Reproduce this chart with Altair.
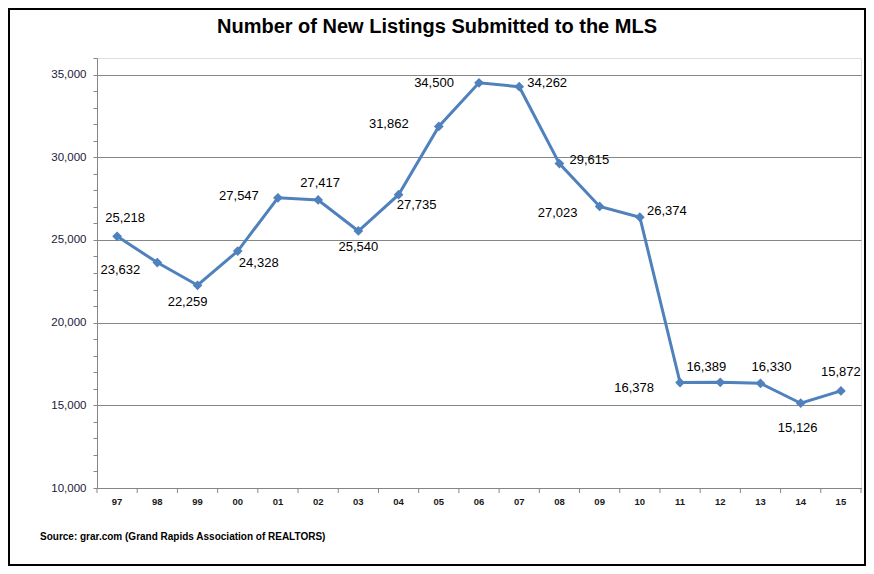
import altair as alt
import pandas as pd

# ---- data ----
years = ["97", "98", "99", "00", "01", "02", "03", "04", "05", "06",
         "07", "08", "09", "10", "11", "12", "13", "14", "15"]
listings = [25218, 23632, 22259, 24328, 27547, 27417, 25540, 27735, 31862, 34500,
            34262, 29615, 27023, 26374, 16378, 16389, 16330, 15126, 15872]
y_ticks = list(range(10000, 36001, 1000))
title_text = "Number of New Listings Submitted to the MLS"
source_text = "Source:  grar.com (Grand Rapids Association of REALTORS)"

# ---- label placement (style) ----
label_dx = [8, -37, -10, 21, -39, 2, 0, 18, -50, -45, 28, 30, -42, 27, -46, -14, 11, -3, 0]
label_dy = [-18, 7, 17, 12, -2, -17, 16, 10, -2, 0, -4, -4, 7, -6, 5, -15, -16, 25, -19]

df = pd.DataFrame({"year": years, "value": listings})
df["label"] = df["value"].map(lambda v: f"{v:,}")

W, H = 764, 430
FONT = "Liberation Sans, Arial"
LINE = "#4F81BD"
GRAY = "#868686"
MAJOR = "datum.value % 5000 === 0 && datum.value < 36000"

x_scale = alt.Scale(type="band", paddingInner=0, paddingOuter=0)
x_axis = alt.Axis(title=None, ticks=False, labelAngle=0, labelFontSize=9.5,
                  labelFontWeight="bold", labelColor="#1a1a1a", labelFont=FONT,
                  labelPadding=8, domainColor=GRAY, grid=False)
y_scale = alt.Scale(domain=[10000, 36000], nice=False, zero=False)
y_axis = alt.Axis(title=None, values=y_ticks, tickSize=4, tickColor=GRAY,
                  domainColor=GRAY, labelPadding=7, labelFontSize=11.5,
                  labelColor="#1a1a3a", labelFont=FONT,
                  labelOverlap=False, labelBound=False, labelFlush=False,
                  labelExpr=f"{MAJOR} ? format(datum.value, ',') : ''",
                  grid=True, gridColor=GRAY, gridWidth=1,
                  gridOpacity={"condition": {"test": MAJOR, "value": 1}, "value": 0})

x_enc = alt.X("year:N", sort=years, scale=x_scale, axis=x_axis)
y_enc = alt.Y("value:Q", scale=y_scale, axis=y_axis)

base = alt.Chart(df)

line = base.mark_line(color=LINE, strokeWidth=3).encode(x=x_enc, y=y_enc)
points = base.mark_point(shape="diamond", filled=True, color=LINE, size=95, opacity=1).encode(
    x=x_enc, y=y_enc)

label_layers = []
for yr, ddx, ddy in zip(years, label_dx, label_dy):
    label_layers.append(
        base.transform_filter(alt.datum.year == yr).mark_text(
            fontSize=13, font=FONT, color="#000000", dx=ddx, dy=ddy, baseline="middle"
        ).encode(x=x_enc, y=y_enc, text="label:N"))

ticks_left = base.mark_rule(color=GRAY, strokeWidth=1).encode(
    x=alt.X("year:N", sort=years, bandPosition=0, scale=x_scale, axis=x_axis),
    y=alt.value(H), y2=alt.value(H + 5))
ticks_right = base.transform_filter(alt.datum.year == years[-1]).mark_rule(color=GRAY, strokeWidth=1).encode(
    x=alt.X("year:N", sort=years, bandPosition=1, scale=x_scale, axis=x_axis),
    y=alt.value(H), y2=alt.value(H + 5))

title = alt.Chart(pd.DataFrame({"t": [title_text]})).mark_text(
    fontSize=20, fontWeight="bold", font=FONT, color="#000000", baseline="middle", align="center").encode(
    text="t:N", x=alt.value(340), y=alt.value(-31))
source = alt.Chart(pd.DataFrame({"t": [source_text]})).mark_text(
    fontSize=10, fontWeight="bold", font=FONT, color="#000000", baseline="middle", align="left").encode(
    text="t:N", x=alt.value(-57), y=alt.value(479))
border = alt.Chart(pd.DataFrame({"t": [0]})).mark_rect(
    fill=None, stroke="#000000", strokeWidth=2).encode(
    x=alt.value(-88), x2=alt.value(W + 4), y=alt.value(-49), y2=alt.value(H + 77))

chart = alt.layer(line, border, points, *label_layers, ticks_left, ticks_right, title, source).properties(
    width=W, height=H,
    autosize=alt.AutoSizeParams(type="none"),
    padding={"left": 89, "top": 50, "right": 5, "bottom": 78},
).configure_view(stroke=None).configure(background="white")

chart.save("out.html", embed_options={"renderer": "svg", "actions": False})
